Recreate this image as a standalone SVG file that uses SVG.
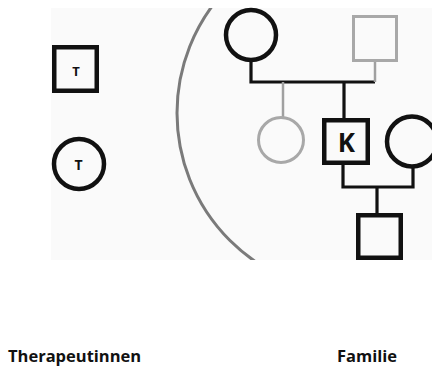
<svg xmlns="http://www.w3.org/2000/svg" width="432" height="366" viewBox="0 0 432 366">
  <style>
    .sym { fill: none; stroke: #111; stroke-width: 4.5; }
    .faint { fill: none; stroke: #a8a8a8; stroke-width: 3; }
    .line { fill: none; stroke: #111; stroke-width: 3.2; }
    .fline { fill: none; stroke: #a0a0a0; stroke-width: 2.5; }
    .lbl { font-family: "Open Sans", "DejaVu Sans", sans-serif; font-weight: bold; fill: #111; text-anchor: middle; }
    .cap { font-family: "Open Sans", "DejaVu Sans", sans-serif; font-weight: bold; font-size: 16.5px; fill: #111; }
  </style>
  <defs>
    <clipPath id="panel">
      <rect x="51" y="8" width="381" height="252"/>
    </clipPath>
  </defs>
  <rect width="432" height="366" fill="#ffffff"/>
  <rect x="51" y="8" width="381" height="252" fill="#fafafa"/>

  <!-- boundary around the family system -->
  <g id="boundary" clip-path="url(#panel)">
    <circle cx="357" cy="113" r="180" fill="none" stroke="#7a7a7a" stroke-width="3"/>
  </g>

  <g id="connectors" clip-path="url(#panel)">
    <!-- parents' marriage line -->
    <path class="line" d="M251 60 V82 H375"/>
    <path class="fline" d="M375 61 V82"/>
    <!-- children of the parents -->
    <path class="fline" d="M283 82 V118"/>
    <path class="line" d="M344 82 V120"/>
    <!-- K and partner -->
    <path class="line" d="M343 163 V187 H413 V166"/>
    <path class="line" d="M377 187 V215"/>
  </g>

  <g id="therapist-m">
    <rect class="sym" x="54.25" y="47.25" width="42.5" height="43.5"/>
    <text class="lbl" x="76" y="76" font-size="13">T</text>
  </g>
  <g id="therapist-f">
    <circle class="sym" cx="79" cy="164" r="25"/>
    <text class="lbl" x="78.5" y="169.5" font-size="14">T</text>
  </g>

  <g id="grandmother">
    <circle class="sym" cx="251" cy="35" r="25"/>
  </g>
  <g id="grandfather">
    <rect class="faint" x="353.5" y="16.5" width="43" height="44"/>
  </g>
  <g id="sister">
    <circle class="faint" cx="281" cy="140" r="22.5"/>
  </g>
  <g id="client">
    <rect class="sym" x="324.25" y="120.25" width="43.5" height="42.5"/>
    <text class="lbl" x="346.5" y="151.5" font-size="26" font-family="DejaVu Sans">K</text>
  </g>
  <g id="partner" clip-path="url(#panel)">
    <circle class="sym" cx="412" cy="141.5" r="25"/>
  </g>
  <g id="son" clip-path="url(#panel)">
    <rect class="sym" x="358.25" y="215.25" width="42.5" height="42.5"/>
  </g>

  <text class="cap" x="8" y="362">Therapeutinnen</text>
  <text class="cap" x="337" y="362">Familie</text>
</svg>
